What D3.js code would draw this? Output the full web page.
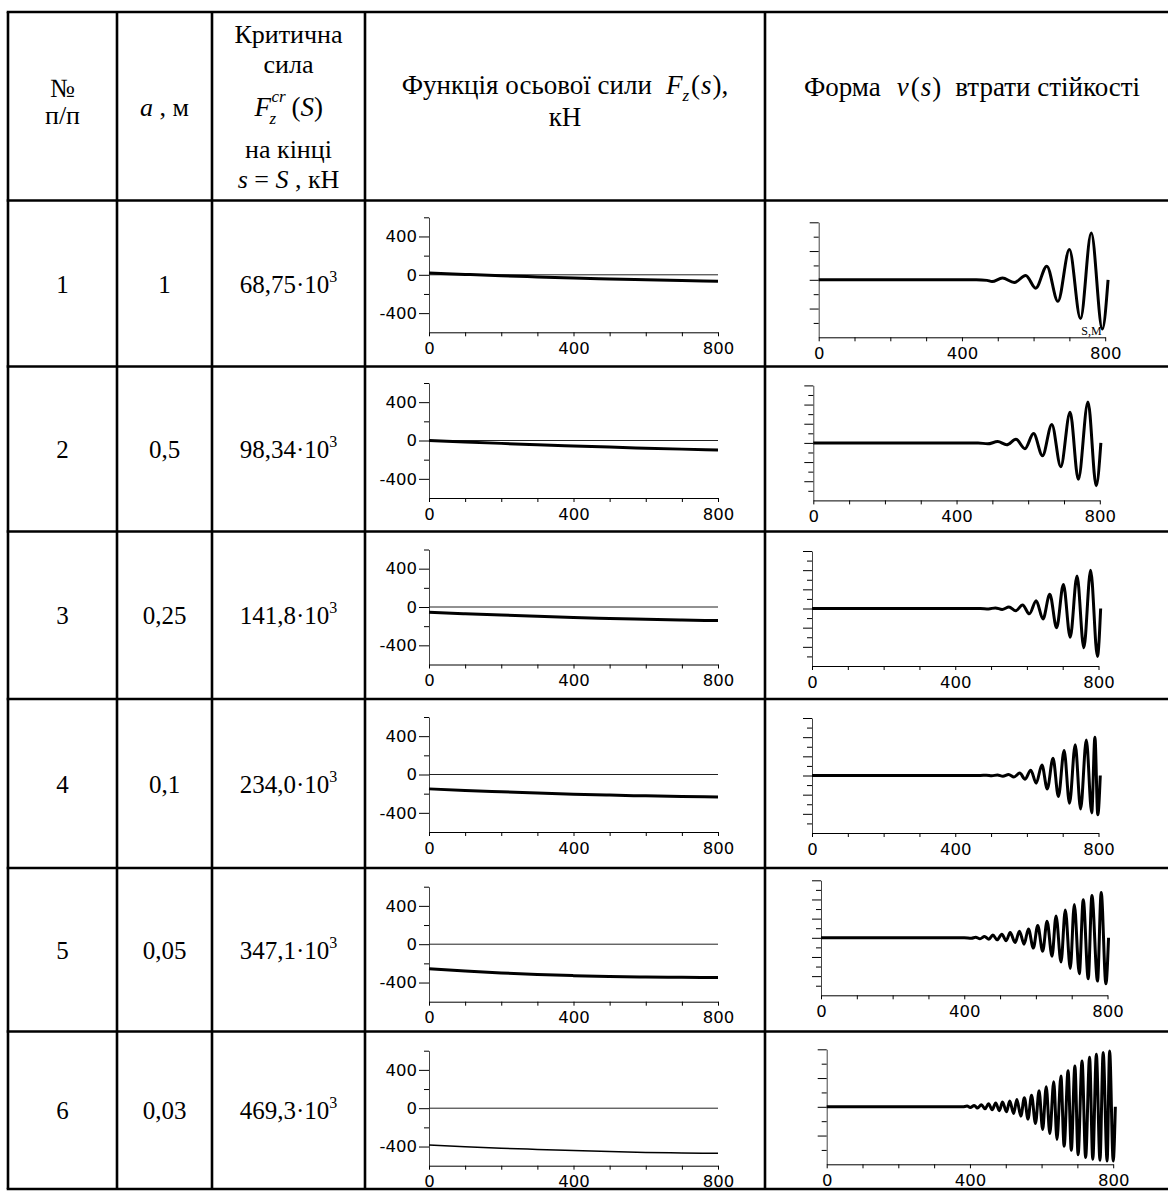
<!DOCTYPE html>
<html>
<head>
<meta charset="utf-8">
<script src="https://cdn.jsdelivr.net/npm/d3@7"></script>
<style>
  body { margin: 0; background: #fff; }
  svg { display: block; }
  .ax text { font-family: "DejaVu Sans", Verdana, sans-serif; font-size: 16.5px; fill: #000; }
</style>
</head>
<body>
<svg id="chart" width="1168" height="1191"></svg>
<script>
const rowNo = ["1", "2", "3", "4", "5", "6"];
const aValues = ["1", "0,5", "0,25", "0,1", "0,05", "0,03"];
const critForce = ["68,75", "98,34", "141,8", "234,0", "347,1", "469,3"];

// axial force F_z(s), kN, sampled every 100 m
const sGrid = [0, 100, 200, 300, 400, 500, 600, 700, 800];
const fz1 = [18, 4, -10, -22, -33, -43, -52, -60, -67];
const fz2 = [0, -15, -30, -44, -57, -69, -80, -90, -98];
const fz3 = [-55, -70, -84, -97, -109, -119, -128, -136, -142];
const fz4 = [-150, -166, -180, -193, -205, -215, -223, -230, -234];
const fz5 = [-256, -280, -300, -316, -328, -337, -343, -346, -347];
const fz6 = [-385, -402, -417, -430, -442, -453, -462, -467, -470];

// buckling shape v(s): [s, v] at turning points of the wave
const wave1 = [[0,0],[440,0],[470,-0.04],[484,-0.12],[513,0.12],[546,-0.19],[578,0.3],[606,-0.58],[637,0.95],[668,-1.5],[700,2.1],[731,-2.7],[761,3.26],[792,-3.43],[808,0]];
const wave2 = [[0,0],[460,0],[487,-0.1],[515,0.14],[540,-0.2],[566,0.38],[591,-0.6],[615,0.97],[640,-1.34],[666,1.93],[691,-2.48],[717,3.2],[740,-3.8],[767,4.28],[790,-4.48],[803,0]];
const wave3 = [[0,0],[470,0],[493,-0.04],[512,0.06],[531,-0.1],[550,0.15],[569,-0.24],[588,0.36],[607,-0.56],[626,0.8],[645,-1.1],[664,1.5],[683,-2.0],[702,2.5],[721,-3.0],[740,3.4],[759,-4.1],[778,4.0],[797,-5.0],[806,0]];
const wave4 = [[0,0],[470,0],[487,0.03],[502,-0.03],[518,0.05],[533,-0.07],[549,0.1],[564,-0.16],[580,0.25],[595,-0.38],[611,0.55],[626,-0.8],[642,1.1],[657,-1.4],[673,1.8],[688,-2.2],[704,2.6],[719,-2.9],[735,3.2],[750,-3.5],[766,3.7],[781,-3.9],[790,4.0],[798,-4.1],[805,0]];
const wave5 = [[0,0],[400,0],[420,-0.04],[432,0.06],[444,-0.1],[456.7,0.14],[468.8,-0.14],[479.9,0.28],[492,-0.21],[504.9,0.38],[517,-0.31],[528.2,0.55],[542,-0.48],[554.1,0.69],[567.1,-0.66],[579.2,0.93],[593,-1.07],[605.1,1.28],[619,-1.41],[631.2,1.72],[645.1,-1.93],[656.3,2.28],[670.2,-2.52],[682.2,2.9],[696.1,-3.2],[707.3,3.48],[721.2,-3.76],[732.3,3.97],[746.2,-4.28],[756.5,4.41],[772.1,-4.52],[782.4,4.72],[795.5,-4.79],[802.9,0]];
const wave6 = [[0,0],[380,0],[392,0.05],[401,-0.05],[412,0.09],[421,-0.09],[432,0.14],[442,-0.14],[452,0.21],[462,-0.2],[472,0.26],[482,-0.27],[491,0.33],[502,-0.35],[511,0.4],[522,-0.47],[531,0.51],[542,-0.65],[552,0.63],[562,-0.86],[572,0.81],[583,-1.16],[593,1.12],[603,-1.58],[613,1.4],[623,-1.86],[634,1.74],[643,-2.28],[654,2.14],[663,-2.74],[674,2.51],[683,-3.02],[693,2.84],[702,-3.33],[713,3.19],[723,-3.53],[734,3.44],[743,-3.65],[753,3.65],[763,-3.72],[772,3.77],[783,-3.77],[790,3.88],[800,-3.77],[806,0]];

const fzRows = [fz1, fz2, fz3, fz4, fz5, fz6];
const waveRows = [wave1, wave2, wave3, wave4, wave5, wave6];
const waveRange = [4, 6, 6, 6, 6, 4];

// ---- layout ----
const colX = [8, 117, 212, 365, 765, 1170];
const rowY = [12, 200.5, 366.5, 531.5, 699, 868, 1031.5, 1189];
const leftTop = [217.3, 383, 549.5, 717, 886.7, 1050.7];
const rightTop = [222.3, 385.4, 551, 718, 880.3, 1049.3];
const rightX = [818.7, 813.3, 812, 812, 821, 826.7];
const plotH = 115;
const serif = '"Liberation Serif", "Times New Roman", serif';

const svg = d3.select("#chart");

// table grid
const grid = svg.append("g").attr("stroke", "#000").attr("stroke-width", 2.6);
rowY.forEach(y => grid.append("line").attr("x1", colX[0] - 1.3).attr("x2", colX[5]).attr("y1", y).attr("y2", y));
colX.forEach(x => grid.append("line").attr("x1", x).attr("x2", x).attr("y1", rowY[0]).attr("y2", rowY[rowY.length - 1]));

// text with mixed italic / sub / sup parts
function mathText(x, y, parts, size, anchor) {
  const t = svg.append("text")
    .attr("x", x).attr("y", y)
    .attr("text-anchor", anchor || "middle")
    .style("font-family", serif)
    .style("font-size", size + "px")
    .style("white-space", "pre")
    .attr("fill", "#000");
  parts.forEach(p => {
    const s = t.append("tspan").text(p.t);
    if (p.i) s.style("font-style", "italic");
    if (p.dy) s.attr("dy", p.dy);
    if (p.dx) s.attr("dx", p.dx);
    if (p.fs) s.style("font-size", p.fs + "px");
  });
  return t;
}

// header
const hs = 26;
const c1 = (colX[0] + colX[1]) / 2, c2 = (colX[1] + colX[2]) / 2;
const c3 = (colX[2] + colX[3]) / 2, c4 = (colX[3] + colX[4]) / 2, c5 = 972;
mathText(c1, 97, [{t: "№"}], hs);
mathText(c1, 124, [{t: "п/п"}], hs);
mathText(c2, 116, [{t: "a", i: true}, {t: " , м"}], hs);
mathText(c3, 43, [{t: "Критична"}], hs);
mathText(c3, 73, [{t: "сила"}], hs);
// F_z^cr(S)
mathText(c3 - 34, 116, [{t: "F", i: true}], hs + 1, "start");
mathText(c3 - 17, 102, [{t: "cr", i: true}], 17, "start");
mathText(c3 - 19, 124, [{t: "z", i: true}], 17, "start");
mathText(c3 + 3, 116, [{t: "("}, {t: "S", i: true}, {t: ")"}], hs + 1, "start");
mathText(c3, 158, [{t: "на кінці"}], hs);
mathText(c3, 188, [{t: "s", i: true}, {t: " = "}, {t: "S", i: true}, {t: " , кН"}], hs);
mathText(c4, 94, [{t: "Функція осьової сили"}, {t: "F", i: true, dx: 14}, {t: "z", i: true, dy: 7, fs: 17}, {t: "(", dy: -7, dx: 2}, {t: "s", i: true, dx: 1}, {t: ")", dx: 1}, {t: ","}], hs + 1);
mathText(c4, 126, [{t: "кН"}], hs + 1);
mathText(c5, 96, [{t: "Форма"}, {t: "v", i: true, dx: 16}, {t: "(", dx: 2}, {t: "s", i: true, dx: 1}, {t: ")", dx: 1}, {t: "втрати стійкості", dx: 14}], hs + 1);

// body text
rowNo.forEach((n, i) => {
  const cy = (rowY[i + 1] + rowY[i + 2]) / 2 + 9;
  mathText(c1, cy, [{t: n}], 25);
  mathText(c2, cy, [{t: aValues[i]}], 25);
  mathText(c3, cy, [{t: critForce[i] + "·10"}, {t: "3", dy: -11, fs: 16}], 25);
});

const fmt = d => String(d);

function xAxis(g, x, y0) {
  g.append("g").attr("class", "ax")
    .attr("transform", `translate(0,${y0})`)
    .call(d3.axisBottom(x).tickValues(d3.range(0, 801, 100)).tickSize(4).tickSizeOuter(0)
      .tickFormat(d => d % 400 === 0 ? fmt(d) : ""))
    .call(a => a.select(".domain").attr("stroke", "#000"))
    .call(a => a.selectAll("text").attr("y", 10).attr("dy", "0.71em"));
}

// F_z(s) charts
fzRows.forEach((vals, i) => {
  const g = svg.append("g");
  const x = d3.scaleLinear().domain([0, 800]).range([429, 718]);
  const y = d3.scaleLinear().domain([-600, 600]).range([leftTop[i] + plotH, leftTop[i]]);
  g.append("g").attr("class", "ax").attr("transform", "translate(429,0)")
    .call(d3.axisLeft(y).tickValues([-400, 0, 400]).tickSize(10).tickPadding(2).tickSizeOuter(0).tickFormat(fmt))
    .call(a => a.select(".domain").attr("stroke", "#444"));
  g.append("g").attr("class", "ax").attr("transform", "translate(429,0)")
    .call(d3.axisLeft(y).tickValues([-200, 200, 600]).tickSize(5).tickSizeOuter(0).tickFormat(""))
    .call(a => a.select(".domain").remove());
  xAxis(g, x, y(-600));
  g.append("line").attr("x1", x(0)).attr("x2", x(800)).attr("y1", y(0)).attr("y2", y(0))
    .attr("stroke", "#222").attr("stroke-width", 1);
  const line = d3.line().x((d, k) => x(sGrid[k])).y(d => y(d)).curve(d3.curveMonotoneX);
  g.append("path").datum(vals).attr("d", line)
    .attr("fill", "none").attr("stroke", "#000").attr("stroke-width", i === 5 ? 1.5 : 3);
});

// v(s) charts
waveRows.forEach((pts, i) => {
  const g = svg.append("g");
  const R = waveRange[i];
  const x = d3.scaleLinear().domain([0, 800]).range([rightX[i], rightX[i] + 286.5]);
  const y = d3.scaleLinear().domain([-R, R]).range([rightTop[i] + plotH, rightTop[i]]);
  const all = d3.range(-R + 1, R + 1, 1);
  g.append("g").attr("class", "ax").attr("transform", `translate(${rightX[i]},0)`)
    .call(d3.axisLeft(y).tickValues(all.filter(v => v % 2 === 0)).tickSize(9).tickSizeOuter(0).tickFormat(""))
    .call(a => a.select(".domain").attr("stroke", "#444"));
  g.append("g").attr("class", "ax").attr("transform", `translate(${rightX[i]},0)`)
    .call(d3.axisLeft(y).tickValues(all.filter(v => v % 2 !== 0)).tickSize(5).tickSizeOuter(0).tickFormat(""))
    .call(a => a.select(".domain").remove());
  xAxis(g, x, y(-R));
  const line = d3.line().x(d => x(d[0])).y(d => y(d[1])).curve(d3.curveMonotoneX);
  g.append("path").datum(pts).attr("d", line)
    .attr("fill", "none").attr("stroke", "#000").attr("stroke-width", 3)
    .attr("stroke-linejoin", "round");
  if (i === 0) {
    g.append("text").attr("x", x(790)).attr("y", y(-R) - 2)
      .attr("text-anchor", "end")
      .style("font-family", serif).style("font-size", "12px").text("S,M");
  }
});
</script>
</body>
</html>
